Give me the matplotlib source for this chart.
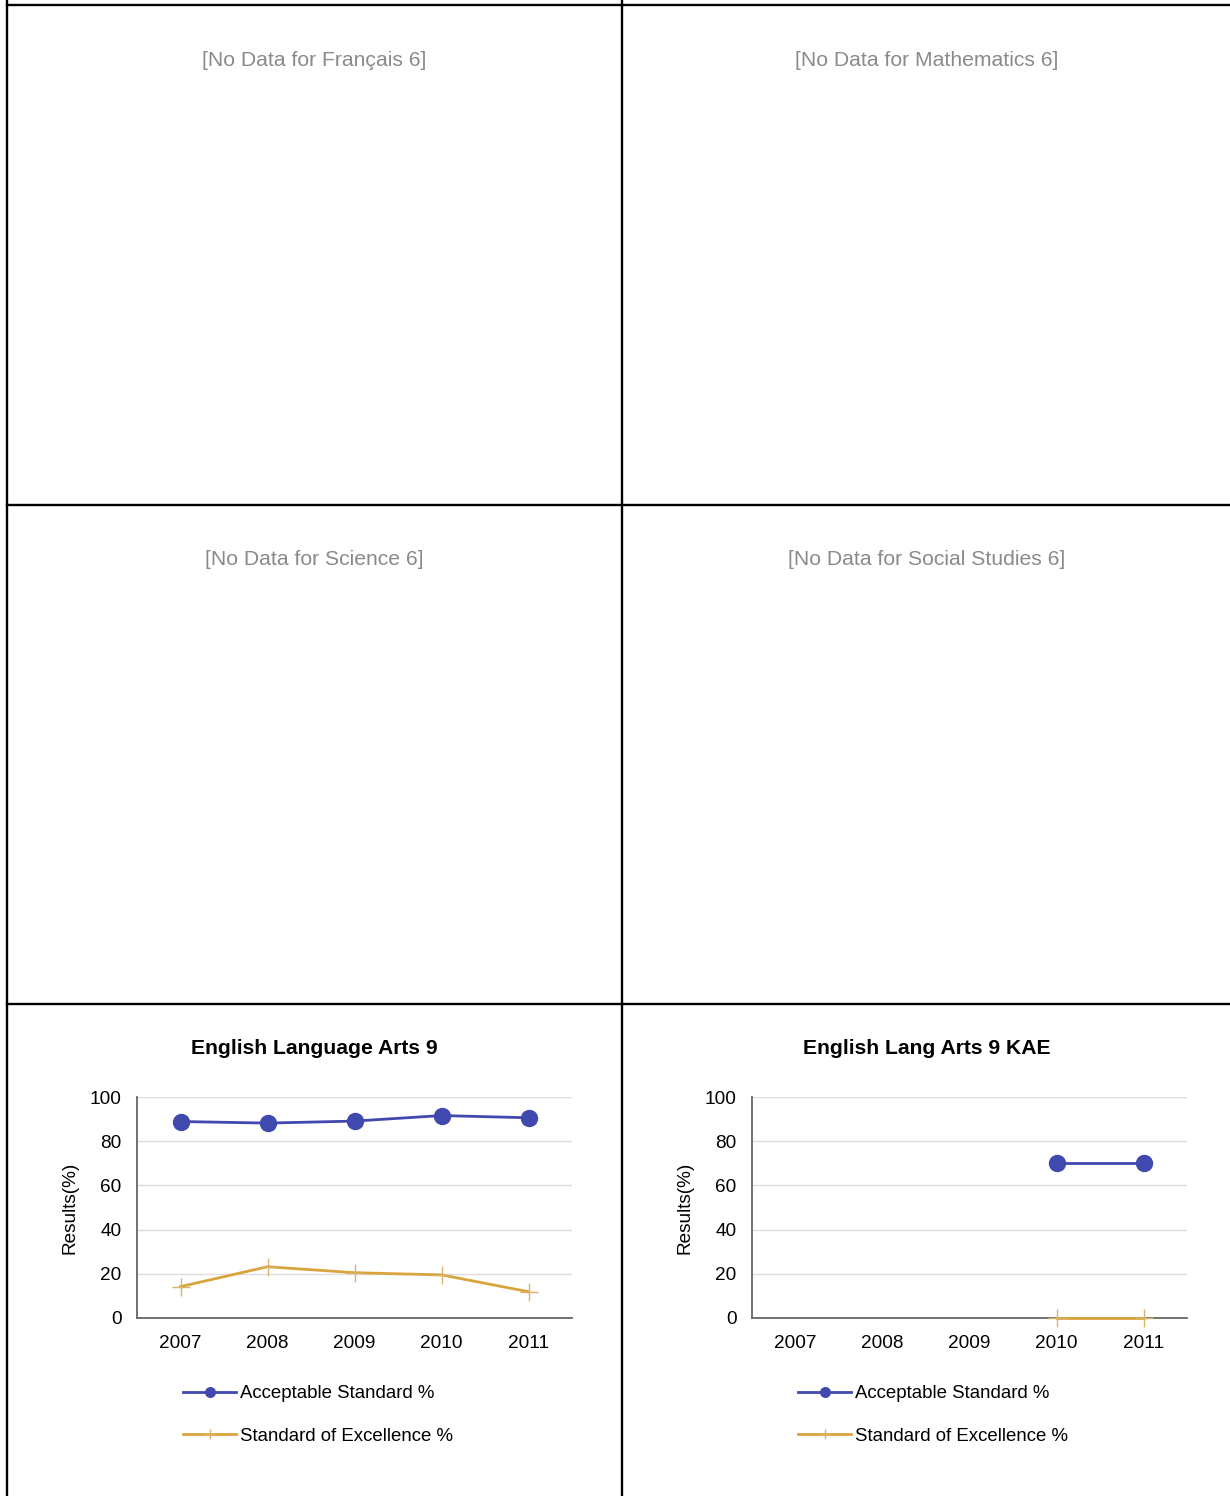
import matplotlib
matplotlib.use("Agg")
import matplotlib.pyplot as plt
from matplotlib.lines import Line2D

plt.rcParams['font.family'] = ['Liberation Sans', 'DejaVu Sans']

W, H = 1230, 1496

# ---- data ----
empty_subjects = ["Français 6", "Mathematics 6", "Science 6", "Social Studies 6"]
years = ["2007", "2008", "2009", "2010", "2011"]
chart_titles = ["English Language Arts 9", "English Lang Arts 9 KAE"]
ela9_acceptable = [88.9, 88.2, 89.1, 91.6, 90.6]
ela9_excellence = [14.2, 23.2, 20.5, 19.5, 11.9]
kae_acceptable = [None, None, None, 70.0, 70.0]
kae_excellence = [None, None, None, 0.0, 0.0]
series_names = ["Acceptable Standard %", "Standard of Excellence %"]
yticks = [0, 20, 40, 60, 80, 100]

BLUE = "#3f49ae"
GOLD = "#d9a43c"
GOLD_LIGHT = "#d9b36a"

fig = plt.figure(figsize=(W / 100, H / 100), dpi=100)

def fx(px):
    return px / W

def fy(py):
    return 1 - py / H

# cell borders
lw = 1.7
for x in [7, 622]:
    fig.add_artist(Line2D([fx(x), fx(x)], [0, 1], color="black", lw=lw))
for y in [5, 505, 1004]:
    fig.add_artist(Line2D([fx(7), 1], [fy(y), fy(y)], color="black", lw=lw))

# empty placeholders
cell_centers_x = [314, 927]
for i, subj in enumerate(empty_subjects):
    cx = cell_centers_x[i % 2]
    cy = [61, 560][i // 2]
    fig.text(fx(cx), fy(cy), f"[No Data for {subj}]", ha="center", va="center",
             fontsize=15.2, color="#8a8a8a")

datasets = [(ela9_acceptable, ela9_excellence), (kae_acceptable, kae_excellence)]
axis_left_px = [137, 752]
for k, (acc, exc) in enumerate(datasets):
    left = axis_left_px[k]
    ax = fig.add_axes([fx(left), fy(1318), 435 / W, 221 / H])
    xs = list(range(len(years)))
    xa = [x for x, v in zip(xs, acc) if v is not None]
    ya = [v for v in acc if v is not None]
    xe = [x for x, v in zip(xs, exc) if v is not None]
    ye = [v for v in exc if v is not None]
    ax.plot(xe, ye, color=GOLD, lw=2, marker="+", markersize=13, markeredgewidth=1.0,
            markeredgecolor=GOLD_LIGHT, clip_on=False, zorder=3, label=series_names[1])
    ax.plot(xa, ya, color=BLUE, lw=2, marker="o", markersize=11.5, clip_on=False,
            zorder=4, label=series_names[0])
    ax.set_xlim(-0.5, len(years) - 0.5)
    ax.set_ylim(0, 100)
    ax.set_yticks(yticks)
    ax.set_xticks(xs)
    ax.set_xticklabels(years)
    ax.tick_params(axis="both", length=0, labelsize=13.7, colors="black")
    ax.tick_params(axis="y", pad=11)
    ax.tick_params(axis="x", pad=12)
    ax.grid(axis="y", color="#dddddd", lw=1)
    ax.set_axisbelow(True)
    for s in ["top", "right"]:
        ax.spines[s].set_visible(False)
    for s in ["left", "bottom"]:
        ax.spines[s].set_color("#666666")
        ax.spines[s].set_linewidth(1.3)
        ax.spines[s].set_zorder(2)
    ax.set_ylabel("Results(%)", fontsize=13.7)
    ax.yaxis.set_label_coords(-58 / 435, 0.5)
    handles, labels = ax.get_legend_handles_labels()
    handles = handles[::-1]
    labels = labels[::-1]
    ax.legend(handles, labels, loc="upper left",
              bbox_to_anchor=(46 / 435, -(1385 - 1318) / 221),
              frameon=False, borderpad=0, borderaxespad=0, fontsize=13.4,
              handlelength=2.85, handletextpad=0.22, labelspacing=1.38,
              markerscale=0.6)
    fig.text(fx(cell_centers_x[k]), fy(1048), chart_titles[k], ha="center",
             va="center", fontsize=15.2, fontweight="bold")

fig.savefig("out.png", dpi=100)
